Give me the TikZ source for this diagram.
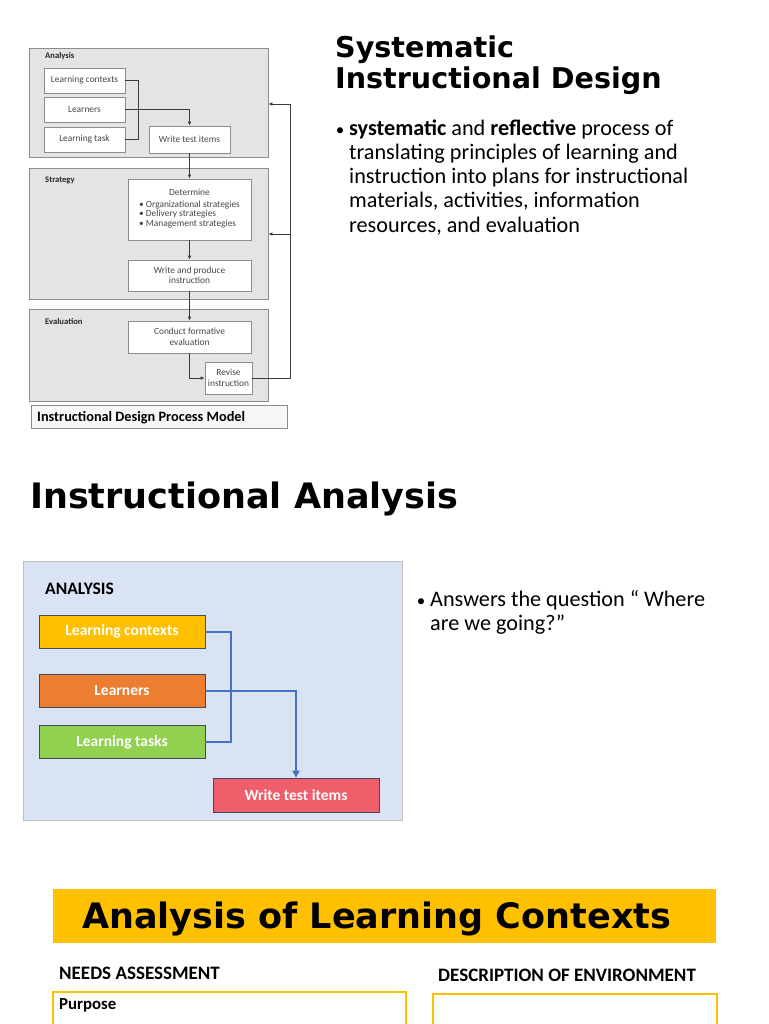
\documentclass[tikz,border=0pt]{standalone}
\usepackage{fontspec}
\setmainfont{Carlito}
\newfontfamily\headfont{DejaVu Sans}
\usetikzlibrary{arrows.meta,positioning}
\definecolor{panelgray}{HTML}{E4E4E6}
\definecolor{framegray}{HTML}{8C8C8C}
\definecolor{wireink}{HTML}{3A3A3A}
\definecolor{skyfill}{HTML}{DAE3F3}
\definecolor{gold}{HTML}{FFC000}
\definecolor{tangerine}{HTML}{ED7D31}
\definecolor{leaf}{HTML}{92D050}
\definecolor{coral}{HTML}{EE5E6B}
\definecolor{linkblue}{HTML}{4472C4}
\definecolor{boxedge}{HTML}{3F4A5E}
\tikzset{panel/.style={draw=framegray,fill=panelgray,line width=.8pt,inner sep=0pt}, figbox/.style={draw=framegray,fill=white,line width=.6pt,inner sep=0pt,align=center,text=black!72,font=\fontsize{9.4}{10.5}\selectfont}, wire/.style={draw=wireink,line width=.9pt}, panellabel/.style={anchor=base west,inner sep=0pt,text=black!85,font=\bfseries\fontsize{8.6}{9}\selectfont}, colbox/.style={draw=boxedge,line width=.8pt,minimum width=166pt,minimum height=33pt,inner sep=0pt,text=white,font=\bfseries\fontsize{15.5}{18}\selectfont}, bluewire/.style={draw=linkblue,line width=2pt}, heading/.style={anchor=base west,inner sep=0pt,font=\headfont\bfseries\fontsize{28.6}{31}\selectfont}, bigheading/.style={anchor=base west,inner sep=0pt,font=\headfont\bfseries\fontsize{35}{38}\selectfont}, bodyline/.style={anchor=base west,inner sep=0pt,font=\fontsize{22.2}{24}\selectfont}, dot/.style={anchor=base,inner sep=0pt,font=\fontsize{17}{20}\selectfont}, caps/.style={anchor=base west,inner sep=0pt,font=\bfseries\fontsize{19}{21}\selectfont}}

\begin{document}
\begin{tikzpicture}[x=1pt,y=-1pt]
\clip (0,0) rectangle (768,1024);
\fill[white] (0,0) rectangle (768,1024);
% process model (top left)
\node[panel,minimum width=239pt,minimum height=109pt] (pnlA) at (148.5,102.5) {};
\node[panel,minimum width=239pt,minimum height=131pt] (pnlS) at (148.5,233.5) {};
\node[panel,minimum width=239pt,minimum height=92pt] (pnlE) at (148.5,355) {};
\node[panellabel] at (45,59) {Analysis};
\node[panellabel] at (45,183) {Strategy};
\node[panellabel] at (45,324) {Evaluation};
\foreach \nm/\yy/\txt in {lcx/80.5/Learning contexts,lrn/109.5/Learners,ltk/139.5/Learning task}
  \node[figbox,minimum width=81pt,minimum height=25pt] (\nm) at (84.5,\yy) {\txt};
\node[figbox,minimum width=81pt,minimum height=27pt] (wti) at (189.5,139.5) {Write test items};
\node[figbox,minimum width=123pt,minimum height=61pt] (det) at (189.5,209.5) {Determine\\[3pt]\begin{tabular}{@{}l@{}}\textbullet\ Organizational strategies\\[-1pt]\textbullet\ Delivery strategies\\[-1pt]\textbullet\ Management strategies\end{tabular}};
\node[figbox,minimum width=123pt,minimum height=31pt] (wpi) at (189.5,275.5) {Write and produce\\instruction};
\node[figbox,minimum width=123pt,minimum height=32pt] (cfe) at (189.5,337) {Conduct formative\\evaluation};
\node[figbox,minimum width=47pt,minimum height=32pt] (rev) at (228.5,378) {Revise\\instruction};
\draw[wire] (lcx.east) -- ++(13,0) |- (ltk.east);
\draw[wire,-{Latex[length=4pt,width=3.5pt]}] (lrn.east) -| (wti.north);
\draw[wire,-{Latex[length=4pt,width=3.5pt]}] (wti.south) -- (det.north);
\draw[wire,-{Latex[length=4pt,width=3.5pt]}] (det.south) -- (wpi.north);
\draw[wire,-{Latex[length=4pt,width=3.5pt]}] (wpi.south) -- (cfe.north);
\draw[wire,-{Latex[length=4pt,width=3.5pt]}] (cfe.south) |- (rev.west);
\coordinate (fbtop) at (290,104);
\coordinate (fbmid) at (290,234);
\draw[wire,-{Latex[length=4pt,width=3.5pt]}] (rev.east) -| (fbtop) -- (fbtop -| pnlA.east);
\draw[wire,-{Latex[length=4pt,width=3.5pt]}] (fbmid) -- (fbmid -| pnlS.east);
\node[draw=framegray,fill=black!3,line width=.6pt,minimum width=256pt,minimum height=23pt] (capt) at (159,416.5) {};
\node[anchor=base west,inner sep=0pt,font=\bfseries\fontsize{14.3}{16}\selectfont] at (37,421) {Instructional Design Process Model};

% title and text (top right)
\node[heading] (ttl1) at (335,58) {Systematic};
\node[heading] (ttl2) at (335,89) {Instructional Design};
\node[dot] at (340,136) {\textbullet};
\node[bodyline] at (349,136) {\textbf{systematic} and \textbf{reflective} process of};
\node[bodyline] at (349,160) {translating principles of learning and};
\node[bodyline] at (349,184) {instruction into plans for instructional};
\node[bodyline] at (349,208) {materials, activities, information};
\node[bodyline] at (349,233) {resources, and evaluation};

% instructional analysis
\node[bigheading] (ttl3) at (30,508) {Instructional Analysis};
\node[draw=black!25,fill=skyfill,line width=.8pt,minimum width=379pt,minimum height=259pt] (pnlB) at (212.5,690.5) {};
\node[anchor=base west,inner sep=0pt,font=\bfseries\fontsize{17.5}{20}\selectfont] at (45,594) {ANALYSIS};
\node[colbox,fill=gold] (lcB) at (122,631.5) {Learning contexts};
\node[colbox,fill=tangerine] (lrB) at (122,690.5) {Learners};
\node[colbox,fill=leaf] (ltB) at (122,742) {Learning tasks};
\node[colbox,fill=coral,minimum height=34pt] (wtB) at (296,795) {Write test items};
\draw[bluewire] (lcB.east) -- ++(26,0) |- (ltB.east);
\draw[bluewire,-{Triangle[length=7pt,width=7pt]}] (lrB.east) -| (wtB.north);
\node[dot] at (421,606) {\textbullet};
\node[bodyline] at (430,606) {Answers the question “ Where};
\node[bodyline] at (430,630) {are we going?”};

% analysis of learning contexts
\node[fill=gold,minimum width=663pt,minimum height=54pt,inner sep=0pt] (banner) at (384.5,916) {};
\node[bigheading] at (82,928) {Analysis of Learning Contexts};
\node[caps] at (59,979) {NEEDS ASSESSMENT};
\node[caps] at (438,981) {DESCRIPTION OF ENVIRONMENT};
\node[draw=gold,line width=2pt,minimum width=353pt,minimum height=60pt,anchor=north west] (needbox) at (52,991) {};
\node[draw=gold,line width=2pt,minimum width=284pt,minimum height=60pt,anchor=north west] (envbox) at (432,993) {};
\node[anchor=base west,inner sep=0pt,font=\bfseries\fontsize{16.8}{19}\selectfont] at (59,1009) {Purpose};
\end{tikzpicture}
\end{document}
